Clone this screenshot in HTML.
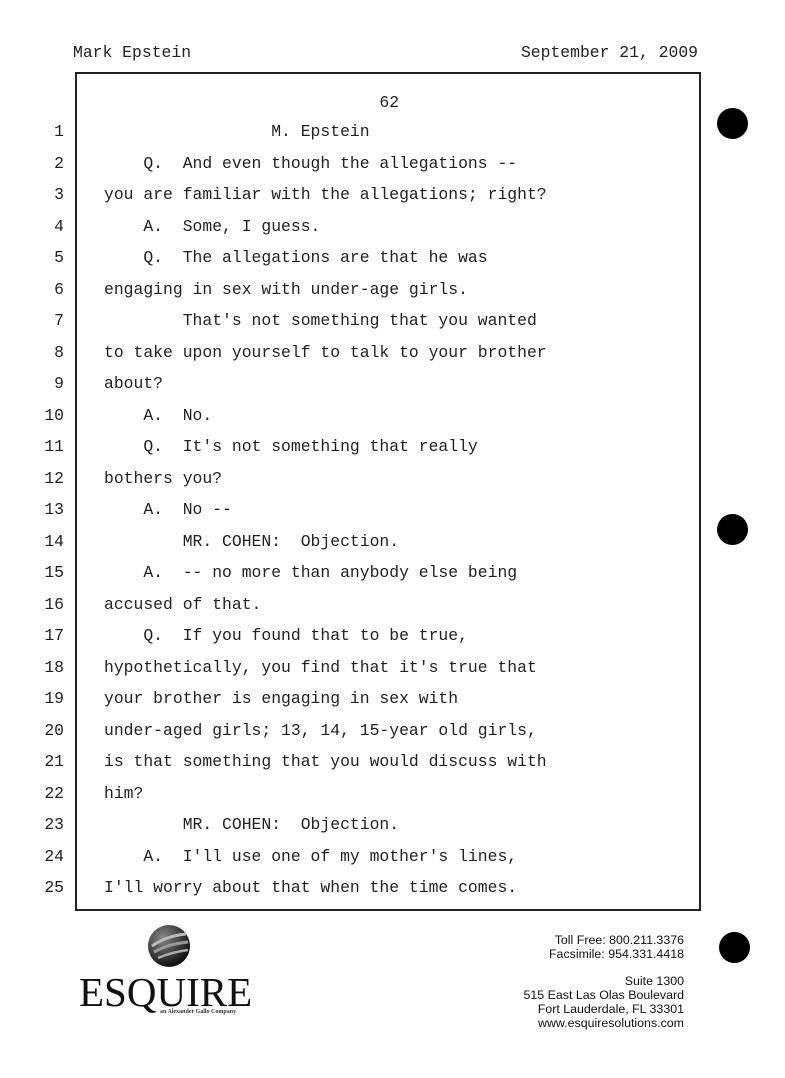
<!DOCTYPE html>
<html><head><meta charset="utf-8"><style>
html,body{margin:0;padding:0;background:#fff;}
body{width:785px;height:1078px;position:relative;overflow:hidden;font-family:"Liberation Mono",monospace;color:#222;}
.t{position:absolute;font-size:16.4px;line-height:20px;white-space:pre;}
.n{position:absolute;font-size:16.4px;line-height:20px;width:40px;text-align:right;left:24px;}
.box{position:absolute;left:75px;top:72px;width:622px;height:835px;border:2px solid #222;}
.dot{position:absolute;width:31px;height:31px;border-radius:50%;background:#000;}
.s{position:absolute;font-family:"Liberation Sans",sans-serif;font-size:12.4px;line-height:14px;text-align:right;right:101px;color:#111;white-space:nowrap;}
</style></head><body>
<div class="t" style="left:73px;top:43px">Mark Epstein</div>
<div class="t" style="left:520px;top:43px;width:178px;text-align:right">September 21, 2009</div>
<div class="box"></div>
<div class="t" style="left:104px;top:93px">                            62</div>
<div id="lines"></div>
<div class="dot" style="left:717px;top:108px"></div>
<div class="dot" style="left:717px;top:514px"></div>
<div class="dot" style="left:719px;top:932px"></div>
<svg style="position:absolute;left:146px;top:924px" width="46" height="44" viewBox="0 0 46 44">
<defs><radialGradient id="g" cx="35%" cy="30%" r="70%"><stop offset="0" stop-color="#888"/><stop offset="1" stop-color="#111"/></radialGradient></defs>
<ellipse cx="23" cy="22" rx="21" ry="21" fill="url(#g)"/>
<path d="M6 22 Q20 12 40 10" stroke="#bbb" stroke-width="3" fill="none"/>
<path d="M8 28 Q22 20 42 18" stroke="#999" stroke-width="3" fill="none"/>
<path d="M12 34 Q26 28 42 26" stroke="#aaa" stroke-width="2.5" fill="none"/>
</svg>
<div style="position:absolute;left:79px;top:969px;font-family:'Liberation Serif',serif;font-size:41px;line-height:46px;color:#111;">ESQUIRE</div>
<div style="position:absolute;left:160px;top:1009px;font-family:'Liberation Serif',serif;font-size:6px;font-weight:bold;color:#333;">an Alexander Gallo Company</div>
<div class="s" style="top:933px">Toll Free: 800.211.3376</div>
<div class="s" style="top:947px">Facsimile: 954.331.4418</div>
<div class="s" style="top:974px">Suite 1300</div>
<div class="s" style="top:988px">515 East Las Olas Boulevard</div>
<div class="s" style="top:1002px">Fort Lauderdale, FL 33301</div>
<div class="s" style="top:1016px">www.esquiresolutions.com</div>
<script>
var L=["                 M. Epstein",
"    Q.  And even though the allegations --",
"you are familiar with the allegations; right?",
"    A.  Some, I guess.",
"    Q.  The allegations are that he was",
"engaging in sex with under-age girls.",
"        That's not something that you wanted",
"to take upon yourself to talk to your brother",
"about?",
"    A.  No.",
"    Q.  It's not something that really",
"bothers you?",
"    A.  No --",
"        MR. COHEN:  Objection.",
"    A.  -- no more than anybody else being",
"accused of that.",
"    Q.  If you found that to be true,",
"hypothetically, you find that it's true that",
"your brother is engaging in sex with",
"under-aged girls; 13, 14, 15-year old girls,",
"is that something that you would discuss with",
"him?",
"        MR. COHEN:  Objection.",
"    A.  I'll use one of my mother's lines,",
"I'll worry about that when the time comes."];
var h="";
for(var i=0;i<25;i++){var y=(122+i*31.5).toFixed(1);
h+='<div class="n" style="top:'+y+'px">'+(i+1)+'</div><div class="t" style="left:104px;top:'+y+'px">'+L[i].replace(/&/g,"&amp;").replace(/</g,"&lt;")+'</div>';}
document.getElementById("lines").innerHTML=h;
</script>
</body></html>
